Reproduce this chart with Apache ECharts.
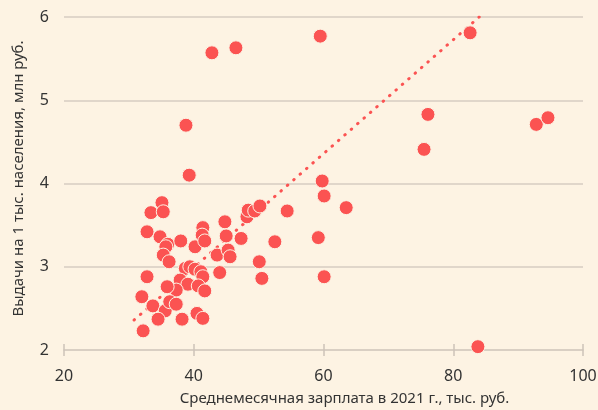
<!DOCTYPE html>
<html>
<head>
<meta charset="utf-8">
<script src="https://cdn.jsdelivr.net/npm/echarts@6/dist/echarts.min.js"></script>
<style>
  html, body { margin: 0; padding: 0; background: #fdf3e3; }
  #chart { width: 598px; height: 410px; }
</style>
</head>
<body>
<div id="chart"></div>
<script>
// средняя зарплата, тыс. руб.
const salary = [42.8, 46.5, 59.5, 82.6, 76.1, 75.5, 92.8, 94.6, 38.8, 39.3,
  59.8, 60.1, 63.5, 54.4, 59.2, 52.5, 60.1, 50.5, 50.1, 83.8,
  35.1, 33.4, 35.3, 32.8, 34.8, 36.0, 35.7, 35.3, 36.2, 38.0,
  40.2, 41.4, 41.3, 41.7, 44.8, 45.0, 43.6, 45.3, 45.6, 47.3,
  48.2, 48.4, 49.4, 50.2, 32.8, 38.7, 39.4, 40.2, 41.1, 41.4,
  37.9, 39.1, 40.7, 41.7, 44.0, 37.3, 35.9, 32.0, 33.7, 35.6,
  36.3, 37.3, 34.5, 38.2, 40.5, 41.4, 32.2];
// выдачи на 1 тыс. населения, млн руб.
const loans = [5.57, 5.63, 5.77, 5.81, 4.83, 4.41, 4.71, 4.79, 4.70, 4.10,
  4.03, 3.85, 3.71, 3.67, 3.35, 3.30, 2.88, 2.86, 3.06, 2.04,
  3.77, 3.65, 3.66, 3.42, 3.36, 3.27, 3.24, 3.14, 3.06, 3.31,
  3.24, 3.47, 3.38, 3.31, 3.54, 3.37, 3.14, 3.20, 3.12, 3.34,
  3.60, 3.68, 3.67, 3.73, 2.88, 2.98, 3.00, 2.97, 2.94, 2.88,
  2.84, 2.79, 2.77, 2.71, 2.93, 2.72, 2.76, 2.64, 2.53, 2.47,
  2.58, 2.55, 2.37, 2.37, 2.44, 2.38, 2.23];
// линия тренда
const trendX = [30.8, 84.0];
const trendY = [2.36, 6.0];

const xTicks = [20, 40, 60, 80, 100];
const yTicks = [2, 3, 4, 5, 6];

const points = salary.map((x, i) => [x, loans[i]]);
const trend = trendX.map((x, i) => [x, trendY[i]]);

const chart = echarts.init(document.getElementById('chart'));
const font = 'Noto Sans';
const red = '#fb5352';

chart.setOption({
  backgroundColor: '#fdf3e3',
  animation: false,
  grid: { left: 64, right: 15, top: 17, bottom: 60, outerBoundsMode: 'none', containLabel: false },
  xAxis: [{
    type: 'value',
    min: xTicks[0], max: xTicks[xTicks.length - 1], interval: 20,
    name: 'Среднемесячная зарплата в 2021 г., тыс. руб.',
    nameLocation: 'middle', nameGap: 41,
    nameTextStyle: { color: '#333', fontSize: 15, fontFamily: font, padding: [0, 0, 0, 42] },
    axisLine: { lineStyle: { color: '#cdc4b9', width: 1.5 } },
    axisTick: { length: 6, lineStyle: { color: '#cdc4b9', width: 1.5 } },
    axisLabel: { color: '#333', fontSize: 16, fontFamily: font, margin: 18 },
    splitLine: { show: false }
  }, {
    type: 'value',
    position: 'bottom',
    min: xTicks[0], max: xTicks[xTicks.length - 1], interval: 20,
    axisLine: { show: false },
    axisTick: { inside: true, length: 6, lineStyle: { color: '#cdc4b9', width: 1.5 } },
    axisLabel: { show: false },
    splitLine: { show: false }
  }],
  yAxis: {
    type: 'value',
    min: yTicks[0], max: yTicks[yTicks.length - 1], interval: 1,
    name: 'Выдачи на 1 тыс. населения, млн руб.',
    nameLocation: 'middle', nameGap: 38, nameRotate: 90,
    nameTextStyle: { color: '#333', fontSize: 15, fontFamily: font, padding: [0, 0, 0, 10] },
    axisLine: { show: false },
    axisTick: { show: false },
    axisLabel: { color: '#333', fontSize: 16, fontFamily: font, margin: 15 },
    splitLine: {
      lineStyle: { color: '#d6cdc2', width: 1.5 },
      showMinLine: false
    }
  },
  series: [{
    type: 'line',
    data: trend,
    symbol: 'none',
    z: 1,
    lineStyle: { color: red, width: 3, type: [0.5, 8], cap: 'round' }
  }, {
    type: 'scatter',
    data: points,
    symbolSize: 14,
    z: 2,
    itemStyle: { color: red, borderColor: '#fdf3e3', borderWidth: 1, opacity: 1 }
  }]
});
</script>
</body>
</html>
